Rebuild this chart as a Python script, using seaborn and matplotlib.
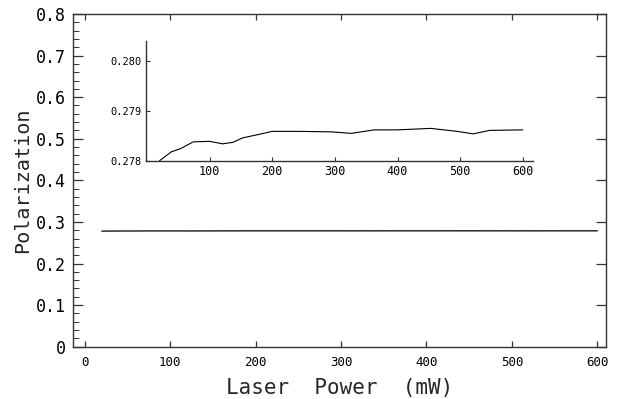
import numpy as np
import pandas as pd
import matplotlib
matplotlib.use('Agg')
import matplotlib.pyplot as plt
import seaborn as sns
from matplotlib.ticker import MultipleLocator

# valores
potencia = [20, 39, 53, 74, 100, 121, 137, 153, 179, 200, 242, 295, 326, 363, 400, 453, 495, 521, 547, 600]
polarizacao = [0.27800, 0.27818, 0.27824, 0.27838, 0.27839, 0.27834, 0.27837, 0.27846, 0.27853, 0.27859,
               0.27859, 0.27858, 0.27855, 0.27862, 0.27862, 0.27865, 0.27859, 0.27854, 0.27861, 0.27862]
xticks_main = [0, 100, 200, 300, 400, 500, 600]
yticks_main = [0, 0.1, 0.2, 0.3, 0.4, 0.5, 0.6, 0.7, 0.8]
xticks_inset = [100, 200, 300, 400, 500, 600]
yticks_inset = [0.278, 0.279, 0.280]

df = pd.DataFrame({'Laser Power (mW)': potencia, 'Polarization': polarizacao})

sns.set_style('ticks')
plt.rcParams['font.family'] = ['DejaVu Sans Mono', 'DejaVu Sans']

fig = plt.figure(figsize=(6.17, 3.99), dpi=100)
ax = fig.add_axes([0.118, 0.131, 0.864, 0.834])
sns.lineplot(x='Laser Power (mW)', y='Polarization', data=df, ax=ax, color='black', linewidth=0.9)
ax.set_xlim(-14, 610)
ax.set_ylim(0, 0.8)
ax.set_xticks(xticks_main)
ax.set_yticks(yticks_main)
ax.set_yticklabels(['0' if v == 0 else f'{v:.1f}' for v in yticks_main], fontsize=12)
ax.set_xticklabels([str(v) for v in xticks_main], fontsize=9)
ax.yaxis.set_minor_locator(MultipleLocator(0.02))
ax.tick_params(which='both', direction='in', top=True, right=True, colors='#333333', labelcolor='black')
ax.tick_params(which='major', axis='y', length=7, width=0.9, pad=5)
ax.tick_params(which='minor', axis='y', length=4, width=0.7, right=False)
ax.tick_params(which='major', axis='x', length=4, width=0.9, pad=7)
for s in ax.spines.values():
    s.set_color('#333333')
    s.set_linewidth(1.0)
ax.set_xlabel('Laser  Power  (mW)', fontsize=15, labelpad=6)
ax.set_ylabel('Polarization', fontsize=14.5, labelpad=3)

# grafico interno
axi = fig.add_axes([0.2366, 0.597, 0.627, 0.300])
sns.lineplot(x='Laser Power (mW)', y='Polarization', data=df, ax=axi, color='black', linewidth=0.8)
axi.set_xlim(-1.5, 616)
axi.set_ylim(0.278, 0.2804)
axi.set_xticks(xticks_inset)
axi.set_yticks(yticks_inset)
axi.set_yticklabels([f'{v:.3f}' for v in yticks_inset], fontsize=7.5)
axi.set_xticklabels([str(v) for v in xticks_inset], fontsize=8.5)
axi.tick_params(direction='in', length=3, width=0.8, colors='#333333', labelcolor='black', pad=3)
axi.spines['top'].set_visible(False)
axi.spines['right'].set_visible(False)
for s in ['left', 'bottom']:
    axi.spines[s].set_color('#333333')
    axi.spines[s].set_linewidth(1.0)
axi.set_xlabel('')
axi.set_ylabel('')
axi.patch.set_alpha(0)

plt.savefig('out.png', dpi=100)
